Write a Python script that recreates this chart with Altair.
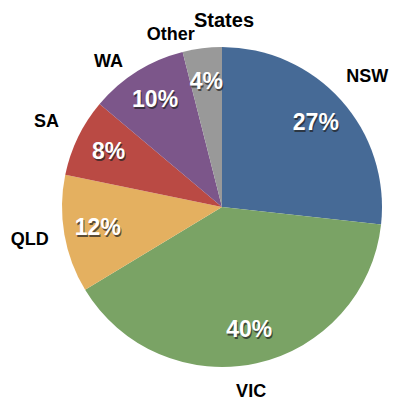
import altair as alt
import pandas as pd

categories = ["NSW", "VIC", "QLD", "SA", "WA", "Other"]
values = [27, 40, 12, 8, 10, 4]
pct_labels = ["27%", "40%", "12%", "8%", "10%", "4%"]
colors = ["#466A96", "#7AA365", "#E4B060", "#BA4A44", "#7C568A", "#999999"]
title_text = "States"

df = pd.DataFrame({
    "state": categories,
    "value": values,
    "pct": pct_labels,
    "order": list(range(len(categories))),
})

CX, CY = 214, 169
FONT = "Liberation Sans"

base = alt.Chart(df).encode(
    theta=alt.Theta("value:Q", stack=True),
    order=alt.Order("order:Q", sort="ascending"),
    x=alt.value(CX),
    y=alt.value(CY),
)

pie = base.mark_arc(outerRadius=160, stroke=None).encode(
    color=alt.Color("state:N", scale=alt.Scale(domain=categories, range=colors), legend=None)
)

shadow = base.mark_text(
    font=FONT, fontSize=23, fontWeight="bold", color="#222222", opacity=0.7, dx=1, dy=2
).encode(radius=alt.value(126), text="pct:N")

pct = base.mark_text(
    font=FONT, fontSize=23, fontWeight="bold", color="white"
).encode(radius=alt.value(126), text="pct:N")


def state_label(test, dx=0, dy=0):
    return base.mark_text(
        font=FONT, fontSize=18, fontWeight="bold", color="black", dx=dx, dy=dy
    ).encode(
        radius=alt.value(195),
        text=alt.condition(test, "state:N", alt.value("")),
    )


label_main = state_label("indexof(['NSW', 'QLD', 'SA'], datum.state) >= 0")
label_vic = state_label("datum.state == 'VIC'", dx=-13, dy=-5)
label_wa = state_label("datum.state == 'WA'", dx=-10, dy=20)
label_other = state_label("datum.state == 'Other'", dx=-27, dy=21)

title = alt.Chart(pd.DataFrame({"t": [title_text]})).mark_text(
    font=FONT, fontSize=20, fontWeight="bold", color="black", baseline="middle"
).encode(x=alt.value(CX + 2), y=alt.value(-17), text="t:N")

chart = alt.layer(pie, shadow, pct, label_main, label_vic, label_wa, label_other, title).properties(
    width=381,
    height=363,
    padding={"top": 30, "left": 0, "right": 0, "bottom": 0},
    autosize=alt.AutoSizeParams(type="none"),
).configure_view(stroke=None)

chart.save("out.html", embed_options={"renderer": "svg", "actions": False})
